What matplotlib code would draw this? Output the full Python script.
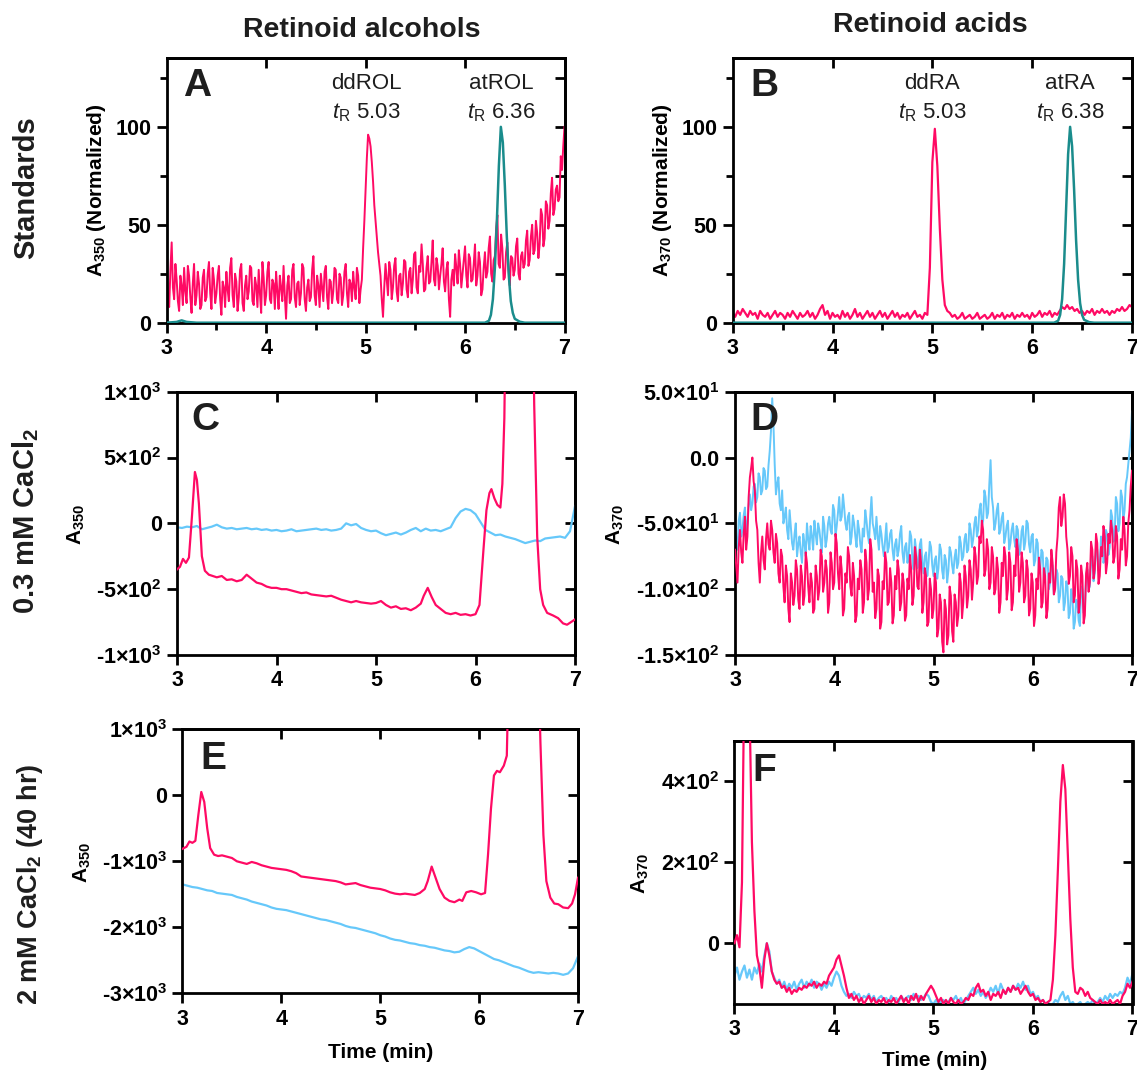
import numpy as np
import matplotlib
matplotlib.use("Agg")
import matplotlib.pyplot as plt

plt.rcParams["font.family"] = ["Liberation Sans", "DejaVu Sans"]
plt.rcParams["mathtext.fontset"] = "custom"
plt.rcParams["mathtext.rm"] = "Liberation Sans"
plt.rcParams["mathtext.it"] = "Liberation Sans:italic"
plt.rcParams["mathtext.bf"] = "Liberation Sans:bold"
plt.rcParams["mathtext.default"] = "regular"

PINK = "#ff0a64"
TEAL = "#1a8c8c"
BLUE = "#66c8fa"
INK = "#1e1e1e"

# ---------------- data ----------------
# sampling grids of the detector traces (min)
time_grid = np.linspace(3.0, 7.0, 161)       # 0.025 min steps
time_grid_fine = np.linspace(3.0, 7.0, 321)  # 0.0125 min steps

# A: ddROL standard, A350 normalized
a_ddrol = [25, 12, 8, 27, 41, 18, 12, 30, 22, 11, 6, 24, 19, 9, 28, 16, 10, 29, 24, 13,
           5, 20, 30, 9, 14, 26, 20, 7, 9, 23, 27, 11, 13, 25, 31, 15, 7, 28, 22, 10,
           15, 24, 29, 12, 4, 21, 18, 8, 26, 17, 11, 28, 33, 14, 8, 25, 21, 6, 13, 27,
           30, 10, 6, 19, 24, 12, 16, 29, 28, 11, 9, 23, 19, 8, 27, 15, 5, 31, 23, 9,
           14, 26, 31, 12, 10, 22, 20, 7, 26, 16, 7, 24, 18, 11, 29, 14, 2, 19, 24, 10,
           12, 27, 30, 13, 8, 20, 21, 9, 15, 30, 28, 12, 6, 18, 22, 11, 13, 27, 34, 14,
           9, 24, 19, 8, 25, 18, 11, 26, 29, 13, 7, 22, 21, 10, 16, 28, 27, 12, 10, 25,
           23, 9, 14, 26, 30, 15, 8, 22, 20, 11, 26, 18, 12, 28, 24, 10, 17, 22, 38, 52,
           68, 84, 96, 94, 90, 82, 72, 60, 52, 44, 36, 30, 24, 12, 3, 18, 30, 22, 14, 31,
           27, 12, 18, 29, 33, 16, 11, 24, 25, 14, 20, 32, 31, 17, 13, 26, 28, 15, 22, 35,
           36, 18, 15, 29, 26, 40, 30, 16, 17, 28, 34, 20, 21, 31, 42, 22, 19, 33, 29, 17,
           24, 30, 38, 21, 16, 27, 31, 12, 3, 22, 27, 19, 35, 28, 20, 37, 30, 18, 25, 32,
           39, 24, 18, 35, 33, 21, 22, 30, 40, 19, 24, 36, 31, 14, 17, 28, 36, 23, 26, 38,
           44, 25, 21, 32, 34, 48, 55, 30, 28, 45, 38, 22, 23, 36, 41, 27, 19, 34, 33, 24,
           27, 39, 43, 25, 22, 34, 36, 28, 30, 42, 47, 29, 32, 44, 50, 35, 37, 52, 46, 33,
           40, 58, 55, 39, 43, 62, 60, 48, 52, 66, 74, 55, 58, 68, 70, 62, 64, 85, 78, 90,
           100]
# A: atROL standard
a_atrol_t = [3.0, 3.1, 3.15, 3.2, 3.3, 6.2, 6.24, 6.26, 6.28, 6.30, 6.32, 6.34, 6.36,
             6.38, 6.40, 6.42, 6.44, 6.46, 6.48, 6.50, 6.55, 6.6, 7.0]
a_atrol = [0, 0.4, 1.2, 0.4, 0, 0, 1, 4, 12, 28, 52, 80, 100, 92, 70, 44, 24, 11, 5, 2,
           0.5, 0, 0]

# B: ddRA standard, A370 normalized
b_ddra = [5, 3, 6, 4, 7, 5, 3, 6, 4, 5, 2, 6, 4, 3, 5, 2, 4, 6, 3, 5,
          4, 2, 5, 3, 6, 4, 2, 5, 3, 4, 6, 3, 5, 2, 4, 7, 9, 4, 6, 2,
          5, 3, 4, 2, 6, 3, 5, 2, 4, 7, 3, 5, 2, 4, 6, 3, 5, 2, 4, 6,
          3, 5, 2, 4, 6, 3, 5, 2, 4, 3, 5, 2, 4, 6, 3, 4, 2, 5, 4, 28,
          82, 99, 80, 48, 22, 9, 6, 5, 3, 4, 2, 3, 5, 2, 3, 4, 2, 3, 5, 2,
          3, 4, 2, 3, 5, 2, 4, 3, 5, 2, 4, 3, 5, 2, 4, 3, 5, 3, 4, 2,
          5, 3, 4, 6, 3, 5, 4, 6, 3, 5, 4, 6, 8, 7, 9, 7, 8, 6, 7, 5,
          6, 4, 6, 5, 7, 4, 6, 5, 7, 5, 6, 4, 6, 5, 7, 6, 8, 6, 7, 9,
          8]
# B: atRA standard
b_atra_t = [3.0, 6.22, 6.26, 6.28, 6.30, 6.32, 6.34, 6.36, 6.38, 6.40, 6.42, 6.44,
            6.46, 6.48, 6.50, 6.52, 6.57, 6.62, 7.0]
b_atra = [0, 0, 1, 4, 12, 30, 58, 86, 100, 90, 68, 42, 22, 10, 4, 1.5, 0.3, 0, 0]

# C: 0.3 mM CaCl2, A350
c_blue_t = np.linspace(3.0, 7.0, 81)
c_blue = [-30, -35, -25, -30, -20, -45, -35, -25, -10, -30, -40, -35, -45, -40, -35,
          -45, -40, -50, -45, -55, -50, -60, -55, -45, -60, -55, -50, -45, -40, -50,
          -45, -55, -50, -40, 0, -15, -5, -35, -50, -60, -55, -75, -90, -80, -70,
          -85, -70, -50, -35, -60, -40, -55, -50, -60, -45, -30, 40, 90, 110, 100,
          70, 10, -50, -70, -90, -85, -100, -110, -120, -135, -150, -140, -130, -135,
          -115, -110, -105, -100, -110, -60, 130]
c_pink_t = [3.00, 3.03, 3.06, 3.09, 3.12, 3.15, 3.18, 3.20, 3.22, 3.25, 3.28, 3.32,
            3.40, 3.45, 3.50, 3.55, 3.60, 3.65, 3.70, 3.75, 3.80, 3.85, 3.90, 3.95,
            4.00, 4.05, 4.10, 4.15, 4.20, 4.25, 4.30, 4.35, 4.40, 4.45, 4.50, 4.55,
            4.60, 4.65, 4.70, 4.75, 4.80, 4.85, 4.90, 4.95, 5.00, 5.05, 5.10, 5.15,
            5.20, 5.25, 5.30, 5.35, 5.40, 5.45, 5.48, 5.52, 5.56, 5.60, 5.65, 5.70,
            5.75, 5.80, 5.85, 5.90, 5.95, 6.00, 6.04, 6.08, 6.11, 6.14, 6.16, 6.19,
            6.22, 6.25, 6.27, 6.29, 6.31, 6.45, 6.57, 6.59, 6.62, 6.65, 6.68, 6.72,
            6.78, 6.83, 6.88, 6.92, 6.96, 7.00]
c_pink = [-350, -330, -270, -300, -260, 50, 390, 330, 150, -250, -360, -390,
          -410, -400, -430, -425, -440, -430, -390, -420, -450, -460, -480, -490,
          -490, -500, -500, -510, -520, -530, -525, -540, -545, -550, -555, -550,
          -565, -580, -590, -600, -590, -600, -605, -610, -605, -590, -620, -640,
          -630, -650, -645, -660, -640, -610, -550, -490, -560, -620, -650, -680,
          -690, -680, -695, -690, -700, -690, -620, -200, 100, 230, 260, 190,
          140, 120, 300, 800, 2000, 5000, 2000, 900, -100, -500, -620, -680,
          -700, -720, -760, -770, -750, -730]

# D: 0.3 mM CaCl2, A370 (0.0125 min steps)
d_blue = [-50, -62, -70, -48, -42, -60, -55, -44, -38, -56, -50, -36, -28, -40, -35, -22,
          -20, -34, -30, -12, -15, -28, -25, -8, -10, -24, -22, -6, 5, 20, 45, 25,
          -5, -28, -20, -15, -35, -40, -25, -50, -45, -38, -55, -62, -40, -52, -65, -70,
          -58, -50, -75, -66, -60, -72, -80, -58, -65, -75, -50, -62, -70, -52, -60, -70,
          -48, -58, -66, -50, -55, -64, -72, -45, -52, -68, -62, -50, -45, -55, -58, -36,
          -40, -60, -52, -42, -30, -48, -45, -28, -38, -50, -55, -45, -42, -66, -60, -44,
          -50, -60, -68, -48, -55, -66, -72, -54, -60, -40, -48, -58, -65, -45, -30, -50,
          -55, -62, -45, -60, -70, -52, -58, -68, -75, -62, -50, -72, -68, -58, -55, -70,
          -78, -66, -62, -75, -70, -58, -52, -72, -80, -68, -65, -80, -74, -56, -60, -78,
          -85, -62, -70, -84, -78, -66, -62, -80, -88, -75, -72, -90, -80, -64, -68, -82,
          -90, -78, -75, -92, -84, -66, -70, -86, -92, -74, -78, -95, -86, -68, -72, -82,
          -88, -76, -70, -84, -80, -60, -65, -78, -75, -62, -58, -72, -70, -50, -55, -68,
          -62, -50, -45, -60, -55, -40, -35, -52, -48, -25, -30, -46, -42, -20, -2, -30,
          -38, -55, -50, -40, -35, -58, -55, -46, -42, -65, -60, -52, -48, -70, -65, -55,
          -50, -62, -68, -52, -55, -74, -70, -56, -52, -70, -64, -48, -50, -66, -72, -60,
          -58, -82, -78, -62, -65, -88, -85, -70, -72, -94, -90, -76, -78, -100, -95, -80,
          -82, -104, -100, -85, -88, -110, -105, -90, -92, -116, -110, -94, -98, -122,
          -118, -100, -105, -130, -125, -108, -110, -124, -128, -98, -100, -118, -115, -90,
          -85, -100, -98, -78, -75, -94, -88, -68, -70, -86, -82, -60, -62, -80, -75, -55,
          -58, -74, -68, -40, -45, -64, -60, -30, -35, -56, -50, -25, -30, -48, -40, -20,
          -15, -5, 5, 15, 35]
d_pink = [-70, -82, -95, -68, -55, -72, -80, -58, -45, -70, -60, -30, -15, -8, 0, -18,
          -25, -48, -55, -80, -95, -72, -60, -78, -85, -62, -50, -66, -70, -48, -55, -72,
          -80, -58, -65, -88, -95, -70, -75, -98, -110, -82, -90, -115, -125, -88, -95,
          -112, -105, -78, -85, -108, -115, -82, -90, -112, -105, -72, -80, -98, -110, -88,
          -95, -118, -115, -82, -90, -108, -100, -70, -75, -102, -95, -78, -85, -118, -110,
          -72, -80, -100, -95, -58, -65, -88, -100, -75, -85, -120, -115, -88, -95, -68,
          -75, -98, -105, -80, -90, -125, -120, -92, -100, -78, -85, -118, -110, -70, -80,
          -108, -100, -62, -70, -102, -95, -122, -115, -85, -90, -130, -125, -94,
          -100, -72, -80, -112, -110, -84, -95, -126, -120, -90, -100, -78, -85, -116,
          -110, -88, -95, -124, -120, -92, -100, -74, -85, -112, -105, -68, -75, -98,
          -100, -70, -80, -118, -110, -84, -90, -128, -125, -92, -100, -122, -115, -88,
          -95, -136, -130, -104, -110, -140, -148, -108, -115, -142, -135, -98, -105, -132,
          -140, -104, -110, -128, -120, -88, -95, -122, -110, -82, -90, -114, -105, -78,
          -85, -108, -95, -68, -75, -96, -90, -60, -65, -48, -55, -90, -85, -62, -70, -100,
          -95, -68, -75, -104, -100, -76, -85, -118, -110, -80, -90, -68, -75, -108, -100,
          -72, -80, -116, -110, -82, -90, -62, -70, -102, -95, -72, -80, -110, -105, -78,
          -85, -120, -115, -88, -95, -128, -120, -92, -100, -76, -85, -114, -110, -84, -90,
          -122, -115, -88, -95, -70, -80, -104, -100, -72, -60, -38, -30, -52, -45, -28,
          -35, -60, -70, -96, -90, -68, -75, -110, -105, -78, -85, -118, -110, -82, -90,
          -126, -120, -88, -80, -102, -95, -64, -70, -92, -85, -58, -65, -96, -90, -68,
          -75, -52, -60, -88, -80, -58, -65, -48, -55, -80, -75, -52, -60, -92, -85, -62,
          -70, -45, -55, -82, -75, -50, -40, -22, -10]

# E: 2 mM CaCl2 (40 hr), A350
e_blue_t = np.linspace(3.0, 7.0, 81)
e_blue = [-1350, -1370, -1390, -1400, -1420, -1440, -1450, -1480, -1490, -1500, -1510,
          -1540, -1560, -1580, -1610, -1630, -1650, -1670, -1700, -1720, -1730, -1740,
          -1760, -1780, -1800, -1820, -1840, -1860, -1880, -1890, -1910, -1930, -1950,
          -1980, -2000, -2010, -2030, -2050, -2070, -2090, -2120, -2140, -2170, -2190,
          -2200, -2220, -2240, -2250, -2270, -2280, -2300, -2310, -2330, -2350, -2360,
          -2380, -2370, -2330, -2300, -2320, -2360, -2400, -2440, -2480, -2500, -2530,
          -2560, -2590, -2610, -2640, -2670, -2690, -2680, -2690, -2700, -2690, -2700,
          -2720, -2700, -2620, -2440]
e_pink_t = [3.00, 3.04, 3.07, 3.10, 3.13, 3.16, 3.19, 3.22, 3.25, 3.28, 3.32, 3.36,
            3.40, 3.45, 3.50, 3.55, 3.60, 3.65, 3.70, 3.75, 3.80, 3.85, 3.90, 3.95,
            4.00, 4.05, 4.10, 4.15, 4.20, 4.25, 4.30, 4.35, 4.40, 4.45, 4.50, 4.55,
            4.60, 4.65, 4.70, 4.75, 4.80, 4.85, 4.90, 4.95, 5.00, 5.05, 5.10, 5.15,
            5.20, 5.25, 5.30, 5.35, 5.40, 5.45, 5.48, 5.52, 5.56, 5.60, 5.65, 5.70,
            5.75, 5.80, 5.83, 5.87, 5.92, 5.97, 6.02, 6.06, 6.09, 6.12, 6.15, 6.18,
            6.21, 6.25, 6.28, 6.30, 6.45, 6.60, 6.62, 6.65, 6.68, 6.72, 6.76, 6.80,
            6.85, 6.90, 6.94, 6.97, 7.00]
e_pink = [-810, -780, -700, -720, -690, -300, 50, -100, -500, -800, -900, -920,
          -910, -930, -950, -1000, -1020, -1040, -1010, -1030, -1060, -1080, -1100, -1110,
          -1120, -1130, -1150, -1180, -1230, -1240, -1250, -1260, -1270, -1280, -1290, -1300,
          -1320, -1350, -1340, -1330, -1360, -1380, -1400, -1410, -1420, -1440, -1470, -1490,
          -1500, -1490, -1500, -1510, -1480, -1420, -1300, -1080, -1250, -1420, -1550, -1600,
          -1620, -1580, -1600, -1470, -1450, -1470, -1500, -1480, -900, -200, 300, 370,
          350, 450, 600, 2000, 5000, 2000, 800, -600, -1300, -1550, -1640, -1650,
          -1700, -1710, -1640, -1500, -1250]

# F: 2 mM CaCl2 (40 hr), A370
f_blue = [-80, -60, -90, -70, -55, -85, -65, -90, -60, -75, -50, -70, -30, 0, -20, -70,
          -85, -100, -90, -110, -95, -115, -100, -110, -95, -115, -100, -90, -110, -95,
          -105, -90, -110, -95, -100, -115, -100, -110, -95, -105, -85, -70, -80, -105,
          -120, -130, -125, -135, -120, -130, -125, -140, -130, -135, -125, -140, -130,
          -145, -135, -130, -140, -135, -145, -130, -140, -135, -145, -130, -140, -135,
          -130, -140, -125, -135, -130, -140, -135, -125, -130, -145, -150, -140, -150,
          -145, -140, -150, -145, -135, -140, -130, -145, -135, -150, -140, -130, -120,
          -110, -125, -115, -130, -120, -135, -125, -110, -120, -105, -125, -100, -115,
          -125, -110, -120, -105, -115, -100, -110, -95, -115, -105, -125, -120, -135,
          -130, -145, -140, -150, -145, -155, -150, -140, -145, -130, -120, -140, -130,
          -150, -145, -155, -150, -145, -155, -150, -145, -150, -140, -150, -145, -135,
          -145, -130, -140, -125, -135, -125, -130, -120, -125, -110, -85, -100, -75]
f_pink = [0, 20, -10, 150, 700, 800, 600, 250, 80, -30, -60, -110, -40, 0, -30, -70,
          -90, -100, -95, -110, -105, -120, -110, -125, -115, -120, -110, -115, -105,
          -110, -100, -105, -95, -110, -100, -105, -95, -100, -80, -70, -60, -40, -30,
          -55, -80, -110, -135, -125, -140, -130, -145, -135, -150, -140, -130, -145,
          -135, -150, -140, -145, -135, -150, -140, -145, -135, -150, -140, -130, -145,
          -135, -150, -130, -140, -125, -145, -130, -140, -125, -115, -105, -115, -130,
          -145, -135, -150, -140, -150, -135, -145, -150, -140, -150, -145, -135, -140,
          -125, -130, -110, -100, -120, -115, -130, -120, -140, -125, -130, -120, -135,
          -115, -125, -110, -120, -105, -115, -110, -125, -115, -105, -120, -130, -125,
          -140, -135, -145, -140, -150, -145, -140, -90, 20, 180, 350, 440, 380, 220,
          60, -60, -120, -125, -110, -115, -130, -120, -135, -140, -145, -150, -140,
          -150, -145, -150, -140, -150, -145, -140, -150, -130, -120, -100, -110, -95]

x_ticks = [3, 4, 5, 6, 7]
std_yticks = [0, 50, 100]
c_yticks = [-1000, -500, 0, 500, 1000]
c_ylabels = ["-1×10$^3$", "-5×10$^2$", "0", "5×10$^2$", "1×10$^3$"]
d_yticks = [-150, -100, -50, 0, 50]
d_ylabels = ["-1.5×10$^2$", "-1.0×10$^2$", "-5.0×10$^1$", "0.0", "5.0×10$^1$"]
e_yticks = [-3000, -2000, -1000, 0, 1000]
e_ylabels = ["-3×10$^3$", "-2×10$^3$", "-1×10$^3$", "0", "1×10$^3$"]
f_yticks = [0, 200, 400]
f_ylabels = ["0", "2×10$^2$", "4×10$^2$"]

# ---------------- figure ----------------
W, H = 1137, 1074
fig = plt.figure(figsize=(W / 100, H / 100), dpi=100)


def box(left, top, right, bottom):
    return [left / W, 1 - bottom / H, (right - left) / W, (bottom - top) / H]


def fxy(x, y):
    return x / W, 1 - y / H


LW_SP = 2.0
TICK_FS = 15.5
TICK_KW = dict(length=7, width=2.0, labelsize=TICK_FS, pad=4, colors="black")


def style(ax, ylim, yticks, ylabels, right_ticks, minor=None):
    ax.set_xlim(3, 7)
    ax.set_ylim(*ylim)
    ax.set_xticks(x_ticks)
    ax.set_xticklabels([str(v) for v in x_ticks])
    ax.set_yticks(yticks)
    ax.set_yticklabels(ylabels)
    ax.tick_params(which="major", direction="out", top=False, right=False, **TICK_KW)
    if minor is not None:
        ax.set_xticks([3.5, 4.5, 5.5, 6.5], minor=True)
        ax.set_yticks(minor, minor=True)
        ax.tick_params(which="minor", direction="out", length=5, width=2.0,
                       top=False, right=False)
    for lab in ax.get_xticklabels() + ax.get_yticklabels():
        lab.set_fontweight("bold")
    for sp in ax.spines.values():
        sp.set_linewidth(LW_SP)
    top = ax.secondary_xaxis("top")
    top.set_xticks([4, 5, 6])
    top.tick_params(direction="in", length=7, width=2.0, labeltop=False)
    top.spines["top"].set_linewidth(LW_SP)
    right = ax.secondary_yaxis("right")
    right.set_yticks(right_ticks)
    right.tick_params(direction="in", length=7, width=2.0, labelright=False)
    right.spines["right"].set_linewidth(LW_SP)


def letter(ax, s, x, y):
    ax.text(x, y, s, transform=ax.transAxes, fontsize=28, fontweight="bold",
            color=INK, ha="left", va="top", zorder=5)


def std_labels(ax, items):
    for xc, name, tr in items:
        ax.text(xc, 122, name, ha="center", va="center", fontsize=16, color=INK)
        ax.text(xc, 107, r"$\mathit{t}_\mathrm{R}$ " + tr, ha="center",
                va="center", fontsize=16, color=INK)


LW = 1.6

# A
axA = fig.add_axes(box(166.7, 58.3, 564.5, 322.7))
axA.plot(time_grid_fine, a_ddrol, color=PINK, lw=1.4, zorder=2)
axA.plot(a_atrol_t, a_atrol, color=TEAL, lw=LW + 0.2, zorder=3)
style(axA, (0, 135), std_yticks, ["0", "50", "100"], [25, 50, 75, 100, 125],
      minor=[25, 75, 125])
letter(axA, "A", 0.04, 0.965)
std_labels(axA, [(5.01, "ddROL", "5.03"), (6.36, "atROL", "6.36")])

# B
axB = fig.add_axes(box(732.7, 58.3, 1132, 322.7))
axB.plot(time_grid, b_ddra, color=PINK, lw=LW, zorder=2)
axB.plot(b_atra_t, b_atra, color=TEAL, lw=LW + 0.2, zorder=3)
style(axB, (0, 135), std_yticks, ["0", "50", "100"], [25, 50, 75, 100, 125],
      minor=[25, 75, 125])
letter(axB, "B", 0.045, 0.965)
std_labels(axB, [(5.0, "ddRA", "5.03"), (6.38, "atRA", "6.38")])

# C
axC = fig.add_axes(box(177, 391.7, 575, 655))
axC.plot(c_blue_t, c_blue, color=BLUE, lw=LW, zorder=2)
axC.plot(c_pink_t, c_pink, color=PINK, lw=LW, zorder=3)
style(axC, (-1000, 1000), c_yticks, c_ylabels, [-500, 0, 500])
letter(axC, "C", 0.035, 0.96)

# D
axD = fig.add_axes(box(735, 391.7, 1132, 655))
axD.plot(time_grid_fine, d_blue, color=BLUE, lw=1.4, zorder=2)
axD.plot(time_grid_fine, d_pink, color=PINK, lw=1.4, zorder=3)
style(axD, (-150, 50), d_yticks, d_ylabels, [-100, -50, 0])
letter(axD, "D", 0.038, 0.96)

# E
axE = fig.add_axes(box(182.5, 729.3, 578, 993.3))
axE.plot(e_blue_t, e_blue, color=BLUE, lw=LW, zorder=2)
axE.plot(e_pink_t, e_pink, color=PINK, lw=LW, zorder=3)
style(axE, (-3000, 1000), e_yticks, e_ylabels, [-2000, -1000, 0])
letter(axE, "E", 0.044, 0.955)

# F
axF = fig.add_axes(box(734.5, 740.7, 1132.5, 1004))
axF.plot(time_grid, f_blue, color=BLUE, lw=LW, zorder=2)
axF.plot(time_grid, f_pink, color=PINK, lw=LW, zorder=3)
style(axF, (-150, 500), f_yticks, f_ylabels, [0, 200, 400])
letter(axF, "F", 0.044, 0.955)

# axis titles
ylab_kw = dict(rotation=90, ha="center", va="center", fontsize=15, fontweight="bold",
               color="black")
fig.text(*fxy(96, 190), "A$_{350}$ (Normalized)", **ylab_kw)
fig.text(*fxy(662, 190), "A$_{370}$ (Normalized)", **ylab_kw)
fig.text(*fxy(76, 524), "A$_{350}$", **ylab_kw)
fig.text(*fxy(615, 524), "A$_{370}$", **ylab_kw)
fig.text(*fxy(82, 862), "A$_{350}$", **ylab_kw)
fig.text(*fxy(640, 873), "A$_{370}$", **ylab_kw)
fig.text(*fxy(381, 1052), "Time (min)", ha="center", va="center", fontsize=15,
         fontweight="bold")
fig.text(*fxy(935, 1061), "Time (min)", ha="center", va="center", fontsize=15,
         fontweight="bold")

# row and column headings
row_kw = dict(rotation=90, ha="center", va="center", fontweight="bold", color=INK)
fig.text(*fxy(26, 188), "Standards", fontsize=21, **row_kw)
fig.text(*fxy(26, 521), "0.3 mM CaCl$_2$", fontsize=21, **row_kw)
fig.text(*fxy(30, 884), "2 mM CaCl$_2$ (40 hr)", fontsize=19.5, **row_kw)
fig.text(*fxy(362, 30), "Retinoid alcohols", ha="center", va="center", fontsize=20.5,
         fontweight="bold", color=INK)
fig.text(*fxy(930, 25), "Retinoid acids", ha="center", va="center", fontsize=20.5,
         fontweight="bold", color=INK)

fig.savefig("out.png", dpi=100)
